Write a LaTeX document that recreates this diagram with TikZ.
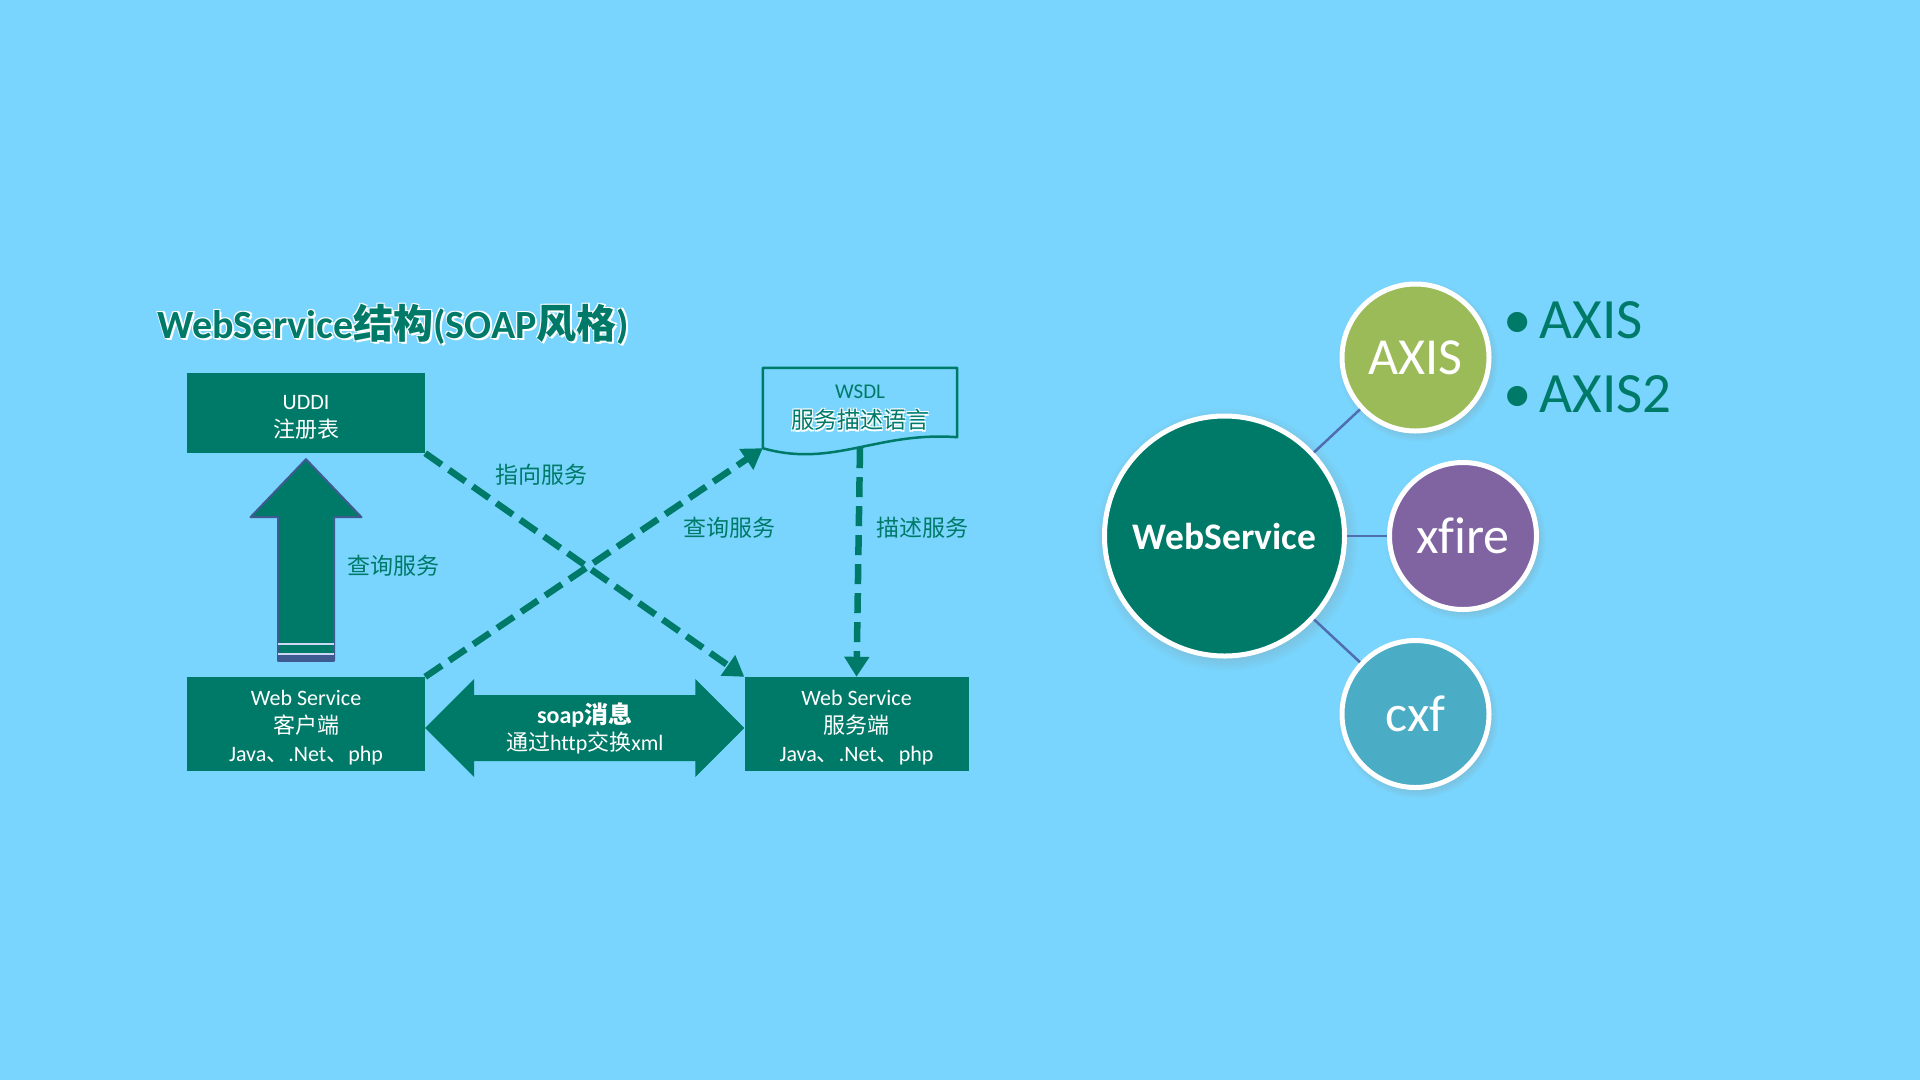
\documentclass[tikz,border=0pt]{standalone}
\usepackage{fontspec}
\setmainfont{Carlito}[Ligatures=CommonOff]
\newfontfamily\cjk{Noto Sans CJK SC}
\usetikzlibrary{arrows.meta,calc,shadows,positioning}

\definecolor{skyback}{RGB}{121,213,253}
\definecolor{wsteal}{RGB}{0,122,104}
\definecolor{axisgreen}{RGB}{155,187,89}
\definecolor{xfirepurple}{RGB}{128,100,162}
\definecolor{cxfblue}{RGB}{75,172,198}
\definecolor{slateline}{RGB}{63,90,145}
\definecolor{linkblue}{RGB}{80,110,175}
\definecolor{stripecol}{RGB}{205,215,245}

\newcommand\zh[1]{{\cjk #1}}
\newcommand\titlestr{\bfseries WebService\zh{结构}(SOAP\zh{风格})}
\newcommand\topgap{\rule{0pt}{23pt}}

\tikzset{
	svcbox/.style={fill=wsteal, text=white, align=center, inner sep=0pt,
		font=\fontsize{22}{28}\selectfont},
	lbl/.style={text=wsteal, font=\fontsize{23}{27}\selectfont},
	titletext/.style={anchor=west, font=\fontsize{40}{46}\selectfont},
	dasharrow/.style={wsteal, line width=6.5pt, dash pattern=on 20pt off 9pt,
		-{Triangle[length=20pt,width=24pt]}},
	stripe/.style={stripecol, line width=1.5pt},
	bubble/.style={circle, draw=white, line width=5pt, text=white, minimum size=147pt,
		inner sep=0pt, font=\fontsize{52}{60}\selectfont,
		circular drop shadow={shadow xshift=2pt, shadow yshift=-3pt, opacity=0.3}},
	link/.style={linkblue, line width=2.5pt},
	listitem/.style={anchor=west, text=wsteal, font=\fontsize{57}{64}\selectfont}
}

\begin{document}
\begin{tikzpicture}[x=1pt,y=1pt,line join=round]
	\fill[skyback] (0,0) rectangle (1920,-1080);
	\useasboundingbox (0,0) rectangle (1920,-1080);

	% titolo
	\foreach \dx/\dy [count=\i] in {2/-2,-1/1,1.5/0.5,-0.5/-1.5}
		\node[titletext, text=white] (titleglow\i) at ($(154,-324)+(\dx,\dy)$) {\titlestr};
	\node[titletext, text=wsteal] (title) at (154,-324) {\titlestr};

	% riquadri
	\node[svcbox, minimum width=238pt, minimum height=80pt] (uddi) at (306,-413) {\topgap UDDI\\\zh{注册表}};
	\node[svcbox, minimum width=238pt, minimum height=94pt] (client) at (306,-724)
		{\topgap Web Service\\\zh{客户端}\\Java\zh{、}.Net\zh{、}php};
	\node[svcbox, minimum width=224pt, minimum height=94pt] (server) at (856.5,-724)
		{\topgap Web Service\\\zh{服务端}\\Java\zh{、}.Net\zh{、}php};

	% documento wsdl
	\node[minimum width=194pt, minimum height=80pt, inner sep=0pt] (wsdl) at (860,-408) {};
	\draw[wsteal, line width=2.5pt] (wsdl.south west) -- (wsdl.north west) -- (wsdl.north east)
		-- ($(wsdl.south east)+(0,11)$) .. controls +(-80,6) and +(70,-20) .. (wsdl.south west) -- cycle;
	\node[text=wsteal, font=\fontsize{21}{24}\selectfont] (wsdlname) at (860,-392) {WSDL};
	\foreach \dx/\dy [count=\i] in {1.5/-1.5,-1/1,1.5/1,-1/-1.5}
		\node[lbl, text=white] (wsdlglow\i) at ($(860,-420)+(\dx,\dy)$) {\zh{服务描述语言}};
	\node[lbl] (wsdldesc) at (860,-420) {\zh{服务描述语言}};

	% freccia su
	\coordinate (qtop) at ($(uddi.south)+(0,-6)$);
	\coordinate (qbot) at ($(client.north)+(0,16)$);
	\filldraw[fill=wsteal, draw=slateline, line width=2pt] ($(qbot)+(-28,0)$) -- ($(qtop)+(-28,-58)$)
		-- ($(qtop)+(-55.5,-58)$) -- (qtop) -- ($(qtop)+(55.5,-58)$) -- ($(qtop)+(28,-58)$)
		-- ($(qbot)+(28,0)$) -- cycle;
	\fill[slateline] ($(qbot)+(-28,0)$) rectangle ($(qbot)+(28,7)$);
	\draw[stripe] ($(qbot)+(-28,7)$) -- ($(qbot)+(28,7)$);
	\draw[stripe] ($(qbot)+(-28,17)$) -- ($(qbot)+(28,17)$);

	% freccia doppia soap
	\coordinate (sl) at ($(client.east)+(0,-4)$);
	\coordinate (sr) at ($(server.west)+(0,-4)$);
	\fill[wsteal] (sl) -- ($(sl)+(49,49)$) -- ($(sl)+(49,33)$) -- ($(sr)+(-49,33)$) -- ($(sr)+(-49,49)$)
		-- (sr) -- ($(sr)+(-49,-49)$) -- ($(sr)+(-49,-33)$) -- ($(sl)+(49,-33)$) -- ($(sl)+(49,-49)$) -- cycle;
	\node[text=white, align=center, font=\fontsize{22}{27}\selectfont] (soap) at ($(sl)!0.5!(sr)$)
		{{\fontsize{24}{27}\selectfont\bfseries soap\zh{消息}}\\\zh{通过}http\zh{交换}xml};

	% collegamenti tratteggiati
	\draw[dasharrow] (uddi.south east) -- (server.north west);
	\draw[dasharrow] (client.north east) -- (wsdl.south west);
	\draw[dasharrow] (wsdl.south) -- (server.north);

	\node[lbl] (lblquery) at (393,-566) {\zh{查询服务}};
	\node[lbl] (lblpoint) at (541,-475) {\zh{指向服务}};
	\node[lbl] (lblquery2) at (729,-528) {\zh{查询服务}};
	\node[lbl] (lbldesc) at (922,-528) {\zh{描述服务}};

	% cerchi
	\node[bubble, fill=wsteal, minimum size=240pt, font=\bfseries\fontsize{37.5}{44}\selectfont] (ws) at (1224.5,-536) {WebService};
	\node[bubble, fill=axisgreen] (axis) at (1415.5,-357.5) {AXIS};
	\node[bubble, fill=xfirepurple] (xfire) at (1463,-536) {xfire};
	\node[bubble, fill=cxfblue] (cxf) at (1415.5,-714) {cxf};
	\draw[link] (ws) -- (axis);
	\draw[link] (ws) -- (xfire);
	\draw[link] (ws) -- (cxf);

	\node[listitem] (axisone) at (1500,-320) {\textbullet\hspace{0.14em}AXIS};
	\node[listitem] (axistwo) at (1500,-394) {\textbullet\hspace{0.14em}AXIS2};
\end{tikzpicture}
\end{document}
